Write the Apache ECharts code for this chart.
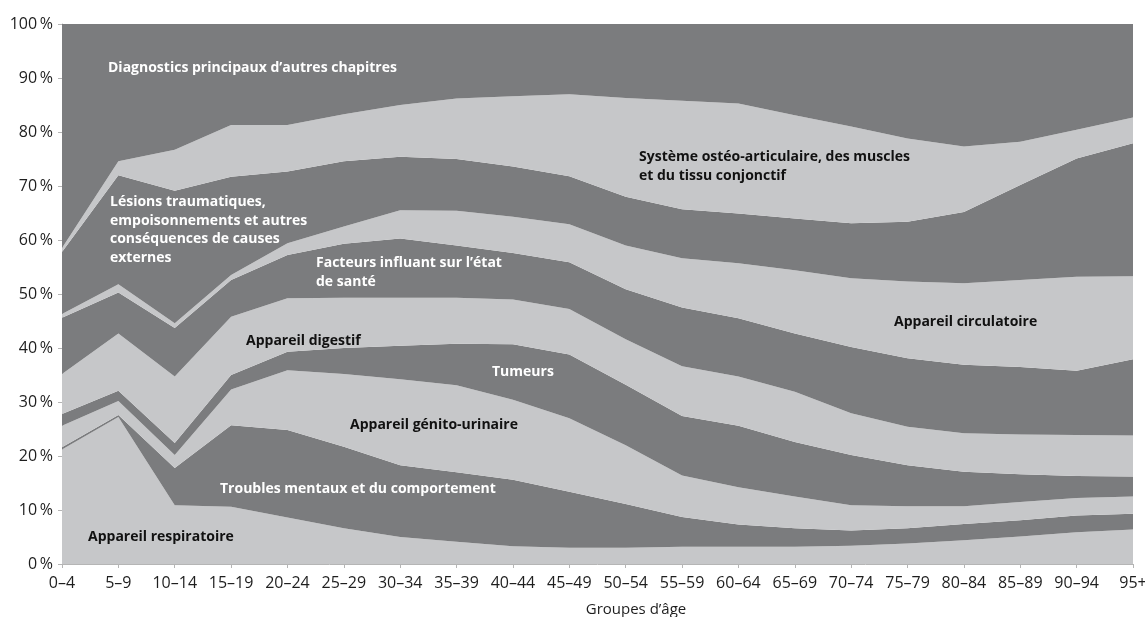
<!DOCTYPE html>
<html>
<head>
<meta charset="utf-8">
<script src="https://cdn.jsdelivr.net/npm/echarts@6/dist/echarts.min.js"></script>
<style>
  html, body { margin: 0; padding: 0; background: #fff; }
  #chart { width: 1145px; height: 617px; }
</style>
</head>
<body>
<div id="chart"></div>
<script>
const ageGroups = ["0–4", "5–9", "10–14", "15–19", "20–24", "25–29", "30–34", "35–39", "40–44", "45–49",
  "50–54", "55–59", "60–64", "65–69", "70–74", "75–79", "80–84", "85–89", "90–94", "95+"];

// share of each chapter (%), stacked from bottom to top
const respiratoire = [21.2, 27.2, 10.9, 10.6, 8.6, 6.6, 5.0, 4.1, 3.3, 3.0, 3.0, 3.2, 3.2, 3.2, 3.4, 3.8, 4.4, 5.1, 5.9, 6.4];
const mentaux      = [0.4, 0.4, 6.9, 15.1, 16.2, 15.1, 13.3, 12.9, 12.3, 10.4, 8.1, 5.5, 4.1, 3.4, 2.8, 2.8, 3.0, 3.0, 3.1, 2.9];
const genito       = [4.0, 2.6, 2.4, 6.6, 11.1, 13.5, 15.9, 16.1, 14.8, 13.6, 10.9, 7.7, 6.9, 5.9, 4.7, 4.1, 3.3, 3.4, 3.2, 3.2];
const tumeurs      = [2.2, 1.9, 2.2, 2.7, 3.4, 4.8, 6.2, 7.7, 10.3, 11.8, 11.2, 11.0, 11.4, 10.1, 9.3, 7.6, 6.4, 5.1, 4.1, 3.7];
const digestif     = [7.4, 10.6, 12.3, 10.8, 9.9, 9.3, 8.9, 8.5, 8.3, 8.4, 8.4, 9.2, 9.1, 9.3, 7.7, 7.1, 7.1, 7.4, 7.6, 7.6];
const facteurs     = [10.4, 7.6, 9.0, 6.8, 8.0, 10.0, 11.0, 9.7, 8.6, 8.7, 9.3, 10.9, 10.8, 10.8, 12.3, 12.7, 12.7, 12.5, 11.9, 14.1];
const circulatoire = [0.7, 1.5, 0.9, 0.9, 2.2, 3.2, 5.2, 6.4, 6.7, 7.0, 8.1, 9.1, 10.2, 11.7, 12.7, 14.2, 15.1, 16.1, 17.4, 15.4];
const lesions      = [11.5, 20.2, 24.5, 18.2, 13.3, 12.1, 9.9, 9.6, 9.3, 8.9, 9.0, 9.1, 9.2, 9.6, 10.2, 11.1, 13.2, 17.6, 21.9, 24.6];
const osteo        = [0.7, 2.6, 7.6, 9.6, 8.6, 8.7, 9.6, 11.2, 13.0, 15.2, 18.3, 20.1, 20.4, 19.1, 17.9, 15.4, 12.1, 8.0, 5.3, 4.8];
const autres       = [41.5, 25.4, 23.3, 18.7, 18.7, 16.7, 15.0, 13.8, 13.4, 13.0, 13.7, 14.2, 14.7, 16.9, 19.0, 21.2, 22.7, 21.8, 19.6, 17.3];

const LIGHT = "#c6c7c9";
const DARK = "#7b7c7e";

const bands = [
  { name: "Appareil respiratoire", data: respiratoire, color: LIGHT },
  { name: "Troubles mentaux et du comportement", data: mentaux, color: DARK },
  { name: "Appareil génito-urinaire", data: genito, color: LIGHT },
  { name: "Tumeurs", data: tumeurs, color: DARK },
  { name: "Appareil digestif", data: digestif, color: LIGHT },
  { name: "Facteurs influant sur l'état de santé", data: facteurs, color: DARK },
  { name: "Appareil circulatoire", data: circulatoire, color: LIGHT },
  { name: "Lésions traumatiques", data: lesions, color: DARK },
  { name: "Système ostéo-articulaire", data: osteo, color: LIGHT },
  { name: "Diagnostics principaux d'autres chapitres", data: autres, color: DARK },
];

const labelFont = 'bold 14px "Open Sans", sans-serif';
const axisFont = { fontFamily: "Open Sans", fontSize: 16, color: "#1e1e1e" };

// band labels: [text, x, top, colour]
const bandLabels = [
  ["Diagnostics principaux d’autres chapitres", 108, 59, "#fff"],
  ["Lésions traumatiques,\nempoisonnements et autres\nconséquences de causes\nexternes", 110, 193, "#fff"],
  ["Facteurs influant sur l’état\nde santé", 316, 254, "#fff"],
  ["Appareil digestif", 246, 332, "#111"],
  ["Tumeurs", 492, 363, "#fff"],
  ["Appareil génito-urinaire", 350, 416, "#111"],
  ["Troubles mentaux et du comportement", 220, 480, "#fff"],
  ["Appareil respiratoire", 88, 528, "#111"],
  ["Système ostéo-articulaire, des muscles\net du tissu conjonctif", 639, 148, "#111"],
  ["Appareil circulatoire", 894, 313, "#111"],
];

const chart = echarts.init(document.getElementById("chart"));

const option = {
  animation: false,
  backgroundColor: "#fff",
  grid: { left: 62, right: 12, top: 24, bottom: 53, containLabel: false, outerBoundsMode: "none" },
  xAxis: {
    type: "category",
    data: ageGroups,
    boundaryGap: false,
    name: "Groupes d’âge",
    nameLocation: "middle",
    nameGap: 38,
    nameTextStyle: { ...axisFont, fontSize: 15, padding: [0, 0, 0, 77] },
    axisLine: { lineStyle: { color: "#b5b5b5", width: 1 } },
    axisTick: { show: true, length: 4, interval: 0, lineStyle: { color: "#b5b5b5" } },
    axisLabel: { ...axisFont, margin: 11, interval: 0, hideOverlap: false },
    splitLine: { show: false },
  },
  yAxis: {
    type: "value",
    min: 0,
    max: 100,
    interval: 10,
    axisLine: { show: true, lineStyle: { color: "#b5b5b5", width: 1 } },
    axisTick: { show: true, length: 4, lineStyle: { color: "#b5b5b5" } },
    axisLabel: {
      ...axisFont,
      margin: 9,
      formatter: (v) => v + "\u2009%",
    },
    splitLine: { show: false },
  },
  series: bands.map((b) => ({
    name: b.name,
    type: "line",
    stack: "total",
    data: b.data,
    symbol: "none",
    lineStyle: { width: 0 },
    itemStyle: { color: b.color },
    areaStyle: { color: b.color, opacity: 1 },
    z: 2,
  })),
  graphic: bandLabels.map(([text, x, y, fill]) => ({
    type: "text",
    z: 100,
    style: {
      text: text,
      x: x,
      y: y,
      fill: fill,
      font: labelFont,
      lineHeight: 18.5,
      verticalAlign: "top",
    },
  })),
};

chart.setOption(option);
</script>
</body>
</html>
